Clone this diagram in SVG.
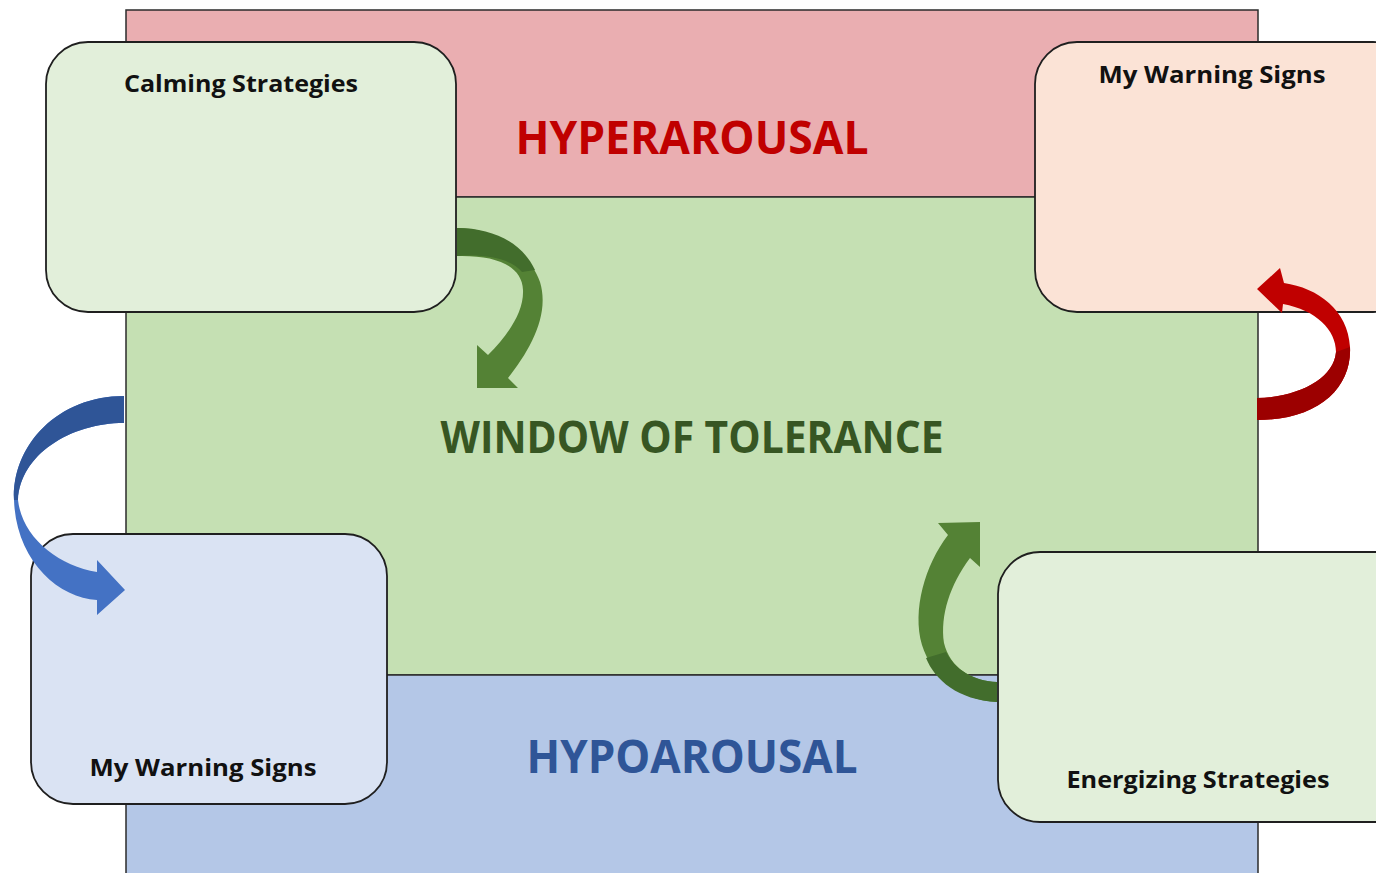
<svg xmlns="http://www.w3.org/2000/svg" width="1376" height="873" viewBox="0 0 1376 873">
  <style>
    .band { stroke: #2b2b2b; stroke-width: 1.5; }
    .card { stroke: #1f1f1f; stroke-width: 1.8; }
    .title { font-family: "Open Sans", "Noto Sans", "Liberation Sans", sans-serif; font-weight: bold; text-anchor: middle; }
    .label { font-family: "Open Sans", "Noto Sans", "Liberation Sans", sans-serif; font-weight: bold; font-size: 24px; fill: #111; text-anchor: middle; }
  </style>
  <rect width="1376" height="873" fill="#ffffff"/>

  <!-- arousal zones -->
  <g id="zones">
    <rect class="band" x="126" y="10" width="1132" height="187" fill="#eaaeb1"/>
    <rect class="band" x="126" y="197" width="1132" height="478" fill="#c5e0b3"/>
    <rect class="band" x="126" y="675" width="1132" height="210" fill="#b4c7e7"/>
    <text class="title" x="692" y="154" font-size="46" fill="#c00000" textLength="353" lengthAdjust="spacingAndGlyphs">HYPERAROUSAL</text>
    <text class="title" x="692" y="453" font-size="44" fill="#375623" textLength="503" lengthAdjust="spacingAndGlyphs">WINDOW OF TOLERANCE</text>
    <text class="title" x="692" y="773" font-size="46" fill="#2f5597" textLength="331" lengthAdjust="spacingAndGlyphs">HYPOAROUSAL</text>
  </g>

  <g id="calming">
    <rect class="card" x="46" y="42" width="410" height="270" rx="42" fill="#e2efda"/>
    <text class="label" x="241" y="92" textLength="234" lengthAdjust="spacingAndGlyphs">Calming Strategies</text>
  </g>

  <g id="warning-high">
    <rect class="card" x="1035" y="42" width="380" height="270" rx="42" fill="#fbe3d6"/>
    <text class="label" x="1212" y="83" textLength="227" lengthAdjust="spacingAndGlyphs">My Warning Signs</text>
  </g>

  <g id="warning-low">
    <rect class="card" x="31" y="534" width="356" height="270" rx="42" fill="#dae3f3"/>
    <text class="label" x="203" y="776" textLength="227" lengthAdjust="spacingAndGlyphs">My Warning Signs</text>
  </g>

  <g id="energizing">
    <rect class="card" x="998" y="552" width="420" height="270" rx="42" fill="#e2efda"/>
    <text class="label" x="1198" y="788" textLength="263" lengthAdjust="spacingAndGlyphs">Energizing Strategies</text>
  </g>

  <!-- curved arrows -->
  <g id="connectors">
    <!-- calming strategies back into the window -->
    <path fill="#548235" d="M457,228 C492,228 528,248 540,282 C550,315 530,350 508,378 L518,388 L477,388 L477,345 L488,355 C508,335 524,312 523,290 C522,265 495,255 457,256 Z"/>
    <path fill="#426d2c" d="M457,228 C492,228 522,242 535,270 L522,272 C510,258 485,254 457,256 Z"/>

    <!-- hyperarousal up to warning signs -->
    <path fill="#c00000" d="M1257,420 C1318,420 1352,388 1350,347 C1348,310 1318,288 1284,283 L1280,268 L1257,289 L1282,313 L1283,304 C1316,310 1336,330 1336,352 C1334,378 1300,397 1257,398 Z"/>
    <path fill="#9c0000" d="M1257,420 C1318,420 1352,388 1350,347 L1336,352 C1334,378 1300,397 1257,398 Z"/>

    <!-- window down to low warning signs -->
    <path fill="#4472c4" d="M124,396 C58,396 12,445 14,500 C16,560 58,598 97,600 L97,615 L125,590 L97,560 L97,572 C58,566 22,537 18,500 C20,455 70,423 124,423 Z"/>
    <path fill="#2f5597" d="M124,396 C58,396 12,445 14,500 L18,500 C20,455 70,423 124,423 Z"/>

    <!-- energizing strategies up into the window -->
    <path fill="#548235" d="M997,702 C958,700 932,676 922,645 C912,610 925,565 948,535 L938,523 L980,522 L980,567 L970,558 C950,585 940,615 944,643 C950,668 972,681 997,682 Z"/>
    <path fill="#426d2c" d="M997,702 C958,700 935,680 926,658 L946,652 C955,670 974,681 997,682 Z"/>
  </g>
</svg>
